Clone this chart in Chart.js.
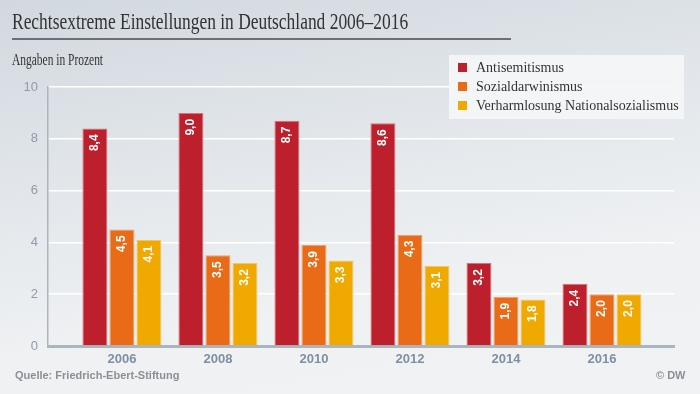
<!DOCTYPE html>
<html lang="de">
<head>
<meta charset="UTF-8">
<title>Rechtsextreme Einstellungen in Deutschland 2006–2016</title>
<script src="https://cdn.jsdelivr.net/npm/chart.js"></script>
<style>
  html, body { margin: 0; padding: 0; }
  body {
    width: 700px; height: 394px; overflow: hidden; position: relative;
    background: linear-gradient(170deg, #d1d8df 0%, #e3e7eb 40%, #eff1f3 70%, #f1f2f4 100%);
    font-family: "Liberation Serif", serif;
  }
  #title {
    position: absolute; left: 12px; top: 8px; transform-origin: 0 0;
    font-size: 24px; color: #333; white-space: nowrap;
  }
  #rule { position: absolute; left: 12px; top: 38px; width: 499px; height: 1.5px; background: #6d6f72; }
  #sub { position: absolute; left: 12px; top: 51px; font-size: 16px; color: #333; white-space: nowrap; transform-origin: 0 0; }
  #legend {
    position: absolute; left: 449px; top: 55px; width: 235px; height: 64px;
    background: rgba(245, 246, 248, 0.9);
  }
  .item { position: absolute; left: 9px; font-size: 14px; color: #333; white-space: nowrap; }
  .item i { display: inline-block; width: 9px; height: 9px; margin-right: 9px; vertical-align: 0px; }
  #src, #dw {
    position: absolute; top: 369px; font-family: "Liberation Sans", Arial, sans-serif;
    font-size: 11px; font-weight: bold; color: #8b9096;
  }
  #src { left: 15px; }
  #dw { left: 656px; }
  #wrap { position: absolute; left: 0; top: 0; width: 700px; height: 394px; }
</style>
</head>
<body>
<div id="wrap"><canvas id="c" width="700" height="394"></canvas></div>
<div id="title">Rechtsextreme Einstellungen in Deutschland 2006–2016</div>
<div id="rule"></div>
<div id="sub">Angaben in Prozent</div>
<div id="legend"></div>
<div id="src">Quelle: Friedrich-Ebert-Stiftung</div>
<div id="dw">© DW</div>

<script>
// values
const years = [2006, 2008, 2010, 2012, 2014, 2016];
const antisemitismus = [8.4, 9.0, 8.7, 8.6, 3.2, 2.4];
const sozialdarwinismus = [4.5, 3.5, 3.9, 4.3, 1.9, 2.0];
const verharmlosung = [4.1, 3.2, 3.3, 3.1, 1.8, 2.0];
const seriesNames = ['Antisemitismus', 'Sozialdarwinismus', 'Verharmlosung Nationalsozialismus'];
const yTicks = [0, 2, 4, 6, 8, 10];

const colors = ['#be1f2d', '#e96b17', '#f0a900'];
const edges = ['#d9707a', '#f2a06a', '#f6c760'];

// the headline font is narrower than any installed serif, squeeze it to width
function fitWidth(id, w) {
    const el = document.getElementById(id);
    el.style.transform = 'scaleX(' + (w / el.offsetWidth) + ')';
}
fitWidth('title', 396);
fitWidth('sub', 91);

// legend
const legend = document.getElementById('legend');
seriesNames.forEach((name, i) => {
    const d = document.createElement('div');
    d.className = 'item';
    d.style.top = (5 + i * 19) + 'px';
    d.innerHTML = '<i style="background:' + colors[i] + '"></i>' + name;
    legend.appendChild(d);
});

// white rotated value labels inside the bars
const valueLabels = {
    id: 'valueLabels',
    afterDatasetsDraw(chart) {
        const ctx = chart.ctx;
        ctx.save();
        ctx.fillStyle = '#fff';
        ctx.font = 'bold 12px "Liberation Sans", Arial, sans-serif';
        ctx.textAlign = 'right';
        ctx.textBaseline = 'middle';
        chart.data.datasets.forEach((ds, di) => {
            chart.getDatasetMeta(di).data.forEach((bar, i) => {
                const txt = ds.data[i].y.toFixed(1).replace('.', ',');
                ctx.save();
                ctx.translate(bar.x, bar.y + 6);
                ctx.rotate(-Math.PI / 2);
                ctx.fillText(txt, 0, 0);
                ctx.restore();
            });
        });
        ctx.restore();
    }
};

const mk = (arr) => arr.map((v, i) => ({ x: years[i], y: v }));

new Chart(document.getElementById('c'), {
    type: 'bar',
    data: {
        datasets: [
            { label: seriesNames[0], data: mk(antisemitismus), backgroundColor: colors[0], borderColor: edges[0], borderWidth: 1 },
            { label: seriesNames[1], data: mk(sozialdarwinismus), backgroundColor: colors[1], borderColor: edges[1], borderWidth: 1 },
            { label: seriesNames[2], data: mk(verharmlosung), backgroundColor: colors[2], borderColor: edges[2], borderWidth: 1 }
        ]
    },
    options: {
        responsive: false,
        animation: false,
        layout: { padding: { top: 87, right: 26, left: 0, bottom: 0 } },
        datasets: { bar: { categoryPercentage: 0.844, barPercentage: 0.926 } },
        plugins: { legend: { display: false }, tooltip: { enabled: false } },
        scales: {
            x: {
                type: 'linear',
                offset: false,
                min: 2004.46,
                max: 2017.5,
                afterBuildTicks: (s) => { s.ticks = years.map(v => ({ value: v })); },
                afterFit: (s) => { s.height = 48; },
                grid: { display: false },
                border: { color: '#a9b5bf', width: 3 },
                ticks: {
                    callback: (v) => String(v),
                    color: '#7d90a3',
                    font: { family: '"Liberation Sans", Arial, sans-serif', size: 13, weight: 'bold' },
                    padding: -2,
                    maxRotation: 0
                }
            },
            y: {
                min: 0,
                max: 10,
                afterBuildTicks: (s) => { s.ticks = yTicks.map(v => ({ value: v })); },
                afterFit: (s) => { s.width = 48; },
                grid: { color: '#ffffff', lineWidth: 1.5, drawTicks: false },
                border: { color: '#a9b5bf', width: 1.5 },
                ticks: {
                    color: '#8d9cab',
                    font: { family: '"Liberation Sans", Arial, sans-serif', size: 13 },
                    padding: 10
                }
            }
        }
    },
    plugins: [valueLabels]
});
</script>
</body>
</html>
